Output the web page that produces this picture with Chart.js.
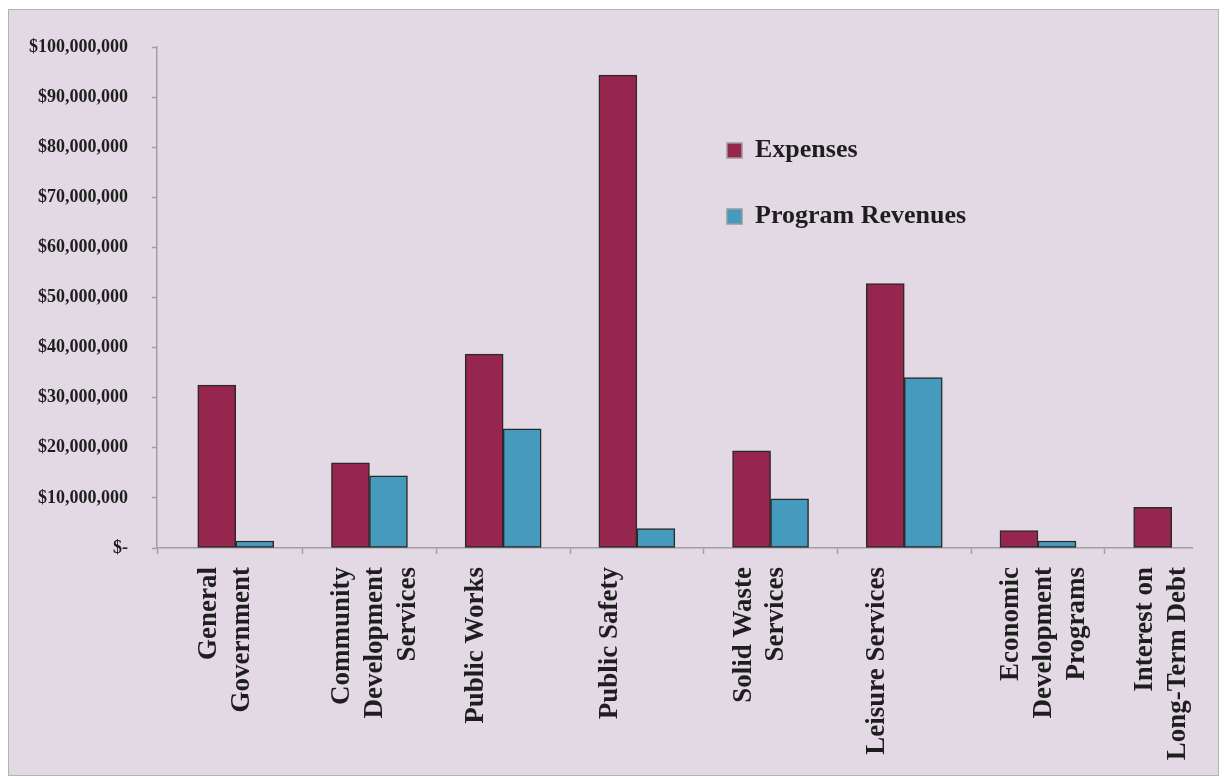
<!DOCTYPE html>
<html><head><meta charset="utf-8">
<script src="https://cdn.jsdelivr.net/npm/chart.js@4.4.0/dist/chart.umd.min.js"></script>
<style>
html,body{margin:0;padding:0;background:#fff;width:1225px;height:781px;overflow:hidden;}
#frame{position:absolute;left:8px;top:9px;width:1211px;height:767px;box-sizing:border-box;border:1px solid #B3B3B3;background:#E2D9E4;}
canvas{display:block;}
</style></head><body>
<div id="frame"><canvas id="c" width="1209" height="765"></canvas></div>
<script>
const categories = [
  ["General", "Government"],
  ["Community", "Development", "Services"],
  ["Public Works"],
  ["Public Safety"],
  ["Solid Waste", "Services"],
  ["Leisure Services"],
  ["Economic", "Development", "Programs"],
  ["Interest on", "Long-Term Debt"]
];
const seriesNames = ["Expenses", "Program Revenues"];
const expenses = [32500000, 17000000, 38700000, 94400000, 19400000, 52800000, 3500000, 8100000];
const programRevenues = [1400000, 14400000, 23800000, 3900000, 9800000, 34000000, 1400000, 0];
const yTickValues = [0, 10000000, 20000000, 30000000, 40000000, 50000000, 60000000, 70000000, 80000000, 90000000, 100000000];

const FONT = "'Liberation Serif', 'Times New Roman', serif";
const TEXT = '#1E1E1E';
const AXIS = '#A0A0A0';
const X_MIN = -0.589, X_MAX = 7.152;

const moveLegend = {
  id: 'moveLegend',
  beforeDraw(chart) {
    if (chart.legend) { chart.legend.left = 678; chart.legend.top = 87.5; }
  }
};

new Chart(document.getElementById('c'), {
  type: 'bar',
  data: {
    labels: categories.map((_, i) => i),
    datasets: [
      { label: seriesNames[0], data: expenses, backgroundColor: '#97264F', borderColor: '#2A2A2A', borderWidth: 1.5, borderSkipped: false, barThickness: 38 },
      { label: seriesNames[1], data: programRevenues, backgroundColor: '#459BBE', borderColor: '#2A2A2A', borderWidth: 1.5, borderSkipped: false, barThickness: 38 }
    ]
  },
  options: {
    responsive: false,
    animation: false,
    layout: { padding: { left: 0, top: 37, right: 26, bottom: 0 } },
    plugins: {
      tooltip: { enabled: false },
      legend: {
        position: 'chartArea',
        fullSize: false,
        align: 'start',
        labels: {
          font: { family: FONT, size: 26, weight: 'bold' },
          color: TEXT,
          boxWidth: 15,
          boxHeight: 15,
          padding: 40,
          generateLabels(chart) {
            const items = Chart.defaults.plugins.legend.labels.generateLabels(chart);
            items.forEach(it => { it.strokeStyle = '#9A9A9A'; it.lineWidth = 1.5; });
            return items;
          }
        }
      }
    },
    scales: {
      x: {
        type: 'linear',
        min: X_MIN,
        max: X_MAX,
        bounds: 'data',
        offset: false,
        grid: {
          offset: false,
          drawOnChartArea: false,
          drawTicks: true,
          tickLength: 6,
          tickWidth: 1.5,
          tickColor: (ctx) => (ctx.tick && Number.isInteger(ctx.tick.value)) ? 'rgba(0,0,0,0)' : AXIS
        },
        border: { display: true, color: AXIS, width: 1.5 },
        afterBuildTicks(scale) {
          const t = [{ value: X_MIN }];
          categories.forEach((_, i) => {
            t.push({ value: i });
            if (i < categories.length - 1) t.push({ value: i + 0.5 });
          });
          scale.ticks = t;
        },
        afterFit(scale) { scale.height = 227; scale.paddingLeft = 0; scale.paddingRight = 0; },
        ticks: {
          autoSkip: false,
          minRotation: 90,
          maxRotation: 90,
          padding: 13,
          labelOffset: -27,
          color: TEXT,
          font: { family: FONT, size: 27, weight: 'bold', lineHeight: 1.22 },
          callback: (value) => Number.isInteger(value) && categories[value] ? categories[value] : ''
        }
      },
      y: {
        min: 0,
        max: 100000000,
        grid: { drawOnChartArea: false, drawTicks: true, tickLength: 5, tickWidth: 1.5, tickColor: AXIS },
        border: { display: true, color: AXIS, width: 1.5 },
        afterBuildTicks(scale) { scale.ticks = yTickValues.map(v => ({ value: v })); },
        afterFit(scale) { scale.width = 148; scale.paddingTop = 0; scale.paddingBottom = 0; },
        ticks: {
          padding: 24,
          color: TEXT,
          font: { family: FONT, size: 18, weight: 'bold' },
          callback: (v) => v === 0 ? '$-' : '$' + Number(v).toLocaleString('en-US')
        }
      }
    }
  },
  plugins: [moveLegend]
});
</script>
</body></html>
